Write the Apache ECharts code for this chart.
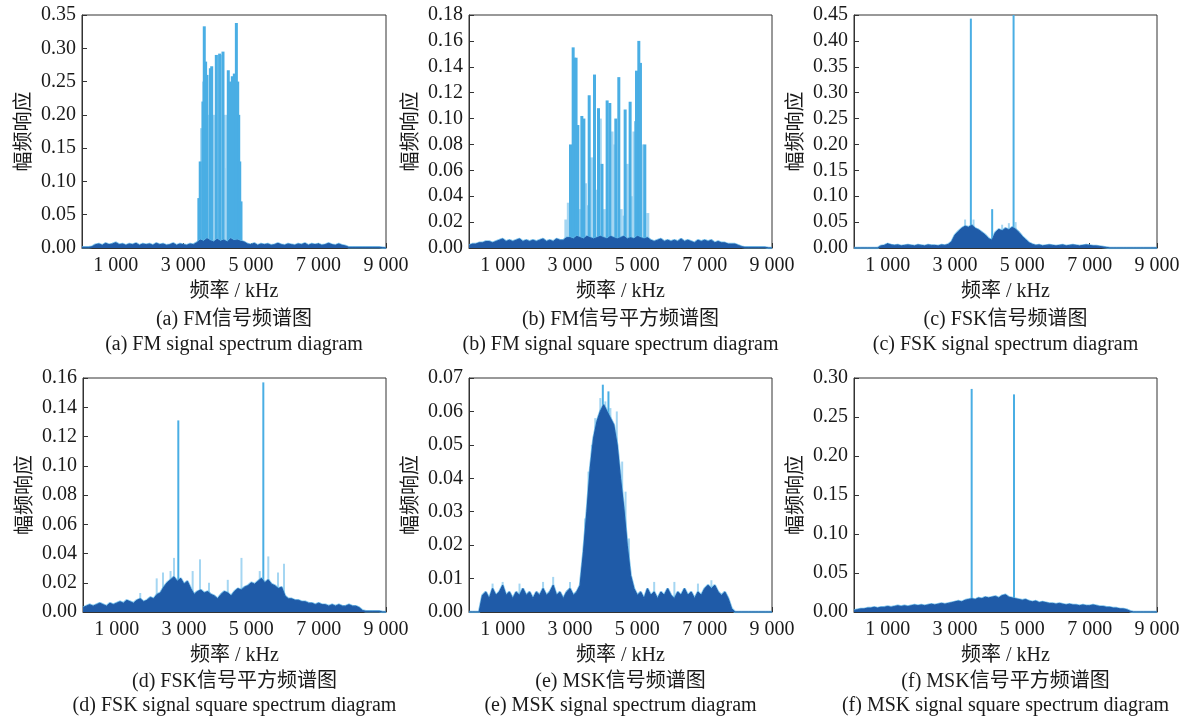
<!DOCTYPE html>
<html><head><meta charset="utf-8">
<script src="https://cdn.jsdelivr.net/npm/echarts@6.0.0/dist/echarts.min.js"></script>
<style>html,body{margin:0;padding:0;background:#fff}#c{width:1193px;height:720px}</style>
</head><body><div id="c"></div><script>
// ---------- data (kHz / amplitude) ----------
const FREQ_STEP = 100; // floor samples every 100 kHz from 0 to 9000
const xTickValues = [1000, 3000, 5000, 7000, 9000];
const yAxisMax  = [0.35, 0.18, 0.45, 0.16, 0.07, 0.30];
const yAxisStep = [0.05, 0.02, 0.05, 0.02, 0.01, 0.05];
const captionsCN = ['(a) FM信号频谱图', '(b) FM信号平方频谱图', '(c) FSK信号频谱图', '(d) FSK信号平方频谱图', '(e) MSK信号频谱图', '(f) MSK信号平方频谱图'];
const captionsEN = ['(a) FM signal spectrum diagram', '(b) FM signal square spectrum diagram', '(c) FSK signal spectrum diagram', '(d) FSK signal square spectrum diagram', '(e) MSK signal spectrum diagram', '(f) MSK signal square spectrum diagram'];
const yName = '幅频响应';
const xName = '频率 / kHz';

// (a) FM spectrum
const fmFloor = [
0.001,0.001,0.001,0.002,
0.005,0.006,0.004,0.007,0.005,0.006,0.008,0.005,0.006,0.004,
0.006,0.005,0.007,0.004,0.006,0.005,0.006,0.004,0.007,0.005,
0.006,0.004,0.005,0.007,0.004,0.006,0.005,0.004,0.006,0.005,
0.008,0.012,0.010,0.014,0.011,0.009,0.013,0.010,0.012,0.009,0.014,0.011,0.012,0.010,0.009,
0.006,0.005,0.007,0.004,0.006,0.005,0.006,0.004,0.005,0.007,
0.005,0.004,0.006,0.005,0.004,0.006,0.005,0.007,0.004,0.006,
0.005,0.006,0.004,0.005,0.007,0.005,0.004,0.006,0.004,
0.003,0.001,0.001,0.001,0.001,0.001,0.001,0.001,0.001,0.001,0.001,0.0005,0];
const fmSpikes = [[3460,0.075],[3500,0.13],[3580,0.22],[3620,0.333],[3660,0.28],[3700,0.26],[3800,0.27],[3840,0.273],[3976,0.29],[4075,0.292],[4174,0.295],[4331,0.267],[4380,0.25],[4450,0.258],[4510,0.262],[4570,0.338],[4610,0.25],[4640,0.2],[4670,0.13],[4707,0.07]];
const fmPale = [[3540,0.18],[3600,0.25],[3740,0.15],[3760,0.2],[3880,0.1],[3920,0.2],[4010,0.285],[4040,0.29],[4110,0.29],[4140,0.29],[4210,0.2],[4250,0.12],[4290,0.2],[4420,0.2],[4540,0.22]];

// (b) FM squared spectrum
const fmSqFloor = [
0.002,0.003,0.003,0.004,0.004,0.005,0.005,0.004,0.005,0.006,
0.007,0.005,0.006,0.005,0.006,0.007,0.005,0.006,0.005,0.006,
0.005,0.006,0.007,0.005,0.006,0.005,0.007,0.006,0.006,0.008,
0.008,0.007,0.009,0.008,0.007,0.009,0.008,0.007,0.008,0.009,
0.008,0.007,0.009,0.008,0.007,0.008,0.009,0.007,0.008,0.007,
0.009,0.008,0.007,0.008,0.006,0.005,0.006,0.007,0.005,0.006,
0.005,0.006,0.005,0.007,0.005,0.006,0.005,0.004,0.006,0.005,
0.006,0.005,0.006,0.004,0.005,0.004,0.004,0.003,0.003,0.003,
0.002,0.001,0.0005,0.0005,0.0005,0.0005,0.0005,0.0005,0.0005,0,0];
const fmSqSpikes = [[3015,0.08],[3094,0.155],[3133,0.147],[3180,0.147],[3233,0.095],[3352,0.102],[3412,0.1],[3570,0.118],[3727,0.134],[3846,0.108],[3950,0.065],[4103,0.114],[4183,0.112],[4361,0.1],[4450,0.132],[4638,0.107],[4786,0.113],[4955,0.098],[4975,0.137],[5044,0.16],[5093,0.143],[5222,0.08]];
const fmSqPale = [[2877,0.022],[2950,0.035],[3050,0.055],[3290,0.03],[3460,0.05],[3530,0.033],[3640,0.07],[3780,0.045],[3900,0.1],[4020,0.03],[4250,0.09],[4300,0.08],[4520,0.03],[4600,0.025],[4700,0.065],[4860,0.04],[4900,0.09],[5160,0.08],[5311,0.027]];

// (c) FSK spectrum
const fskFloor = [
0,0,0,0,0,0,0,0,
0.004,
0.005,0.008,0.006,0.005,0.006,0.004,0.005,0.006,0.005,0.004,0.006,0.005,0.004,0.006,0.005,0.005,0.004,0.006,0.005,0.007,
0.012,0.025,0.032,0.038,0.042,0.040,0.044,0.038,0.035,0.030,0.025,0.018,0.015,0.030,0.036,0.033,0.038,0.035,0.040,0.036,0.030,0.022,0.016,0.010,0.007,
0.005,0.006,0.004,0.005,0.006,0.005,0.004,0.005,0.006,0.004,0.005,0.006,0.005,0.004,0.005,0.006,0.005,0.004,
0.004,0.003,0.002,0.001,
0,0,0,0,0,0,0,0,0,0,0,0,0,0,0];
const fskSpikes = [[3471,0.443],[4740,0.45],[4104,0.075]];
const fskPale = [[3300,0.055],[3550,0.055],[4400,0.045],[4600,0.048],[4800,0.05]];

// (d) FSK squared spectrum
const fskSqFloor = [
0.003,0.004,0.005,0.004,0.005,0.006,0.005,0.004,0.006,0.005,
0.006,0.007,0.006,0.008,0.007,0.006,0.008,0.009,0.007,0.008,
0.010,0.009,0.012,0.013,0.017,0.020,0.022,0.024,0.021,0.023,
0.019,0.021,0.016,0.012,0.014,0.015,0.013,0.014,0.012,0.011,
0.009,0.012,0.014,0.013,0.011,0.014,0.016,0.015,0.017,0.018,
0.020,0.019,0.021,0.023,0.020,0.022,0.019,0.018,0.016,0.017,
0.011,0.009,0.009,0.008,0.008,0.007,0.007,0.006,0.006,0.005,
0.006,0.005,0.005,0.004,0.005,0.004,0.005,0.004,0.004,0.005,
0.004,0.004,0.003,0.001,0.0005,0.0005,0.0005,0.0005,0.0005,0,0];
const fskSqSpikes = [[2831,0.131],[5356,0.157]];
const fskSqPale = [[1700,0.013],[2189,0.023],[2376,0.027],[2600,0.028],[2703,0.037],[3257,0.028],[3475,0.036],[3742,0.02],[4300,0.022],[4707,0.037],[5250,0.028],[5504,0.038],[5792,0.027],[5970,0.033]];

// (e) MSK spectrum
const mskFloor = [
0,0,0,0,
0.005,0.006,0.004,0.007,0.005,0.006,0.008,0.005,0.006,0.004,
0.006,0.005,0.007,0.005,0.006,0.004,0.006,0.005,0.007,0.005,
0.006,0.008,0.005,0.006,0.004,0.006,0.007,0.005,0.006,0.008,
0.018,0.030,0.043,0.052,0.057,0.060,0.062,0.060,0.058,0.056,0.050,0.040,0.031,0.020,0.011,0.007,
0.005,0.006,0.004,0.007,0.005,0.006,0.004,0.006,0.005,0.007,
0.005,0.004,0.006,0.005,0.007,0.005,0.006,0.004,0.006,0.005,
0.007,0.008,0.007,0.008,0.006,0.005,0.006,0.004,
0.001,0,0,0,0,0,0,0,0,0,0,0,0];
const mskSpikes = [[3975,0.068],[4142,0.066]];
const mskPale = [[700,0.0085],[1000,0.009],[1500,0.0085],[2200,0.009],[2500,0.0105],[3000,0.009],[3450,0.028],[3550,0.042],[3650,0.05],[3750,0.058],[3900,0.064],[4050,0.063],[4200,0.061],[4390,0.06],[4550,0.045],[4650,0.036],[4750,0.022],[5500,0.009],[6100,0.009],[6800,0.0085],[7200,0.0095]];

// (f) MSK squared spectrum
const mskSqFloor = [
0.002,0.003,0.004,0.004,0.005,0.005,0.006,0.005,0.006,0.006,
0.007,0.006,0.007,0.008,0.007,0.008,0.007,0.008,0.009,0.008,
0.009,0.008,0.009,0.010,0.009,0.010,0.011,0.010,0.011,0.012,
0.013,0.014,0.013,0.015,0.016,0.017,0.016,0.018,0.017,0.019,
0.018,0.019,0.020,0.018,0.021,0.022,0.019,0.018,0.017,0.016,
0.015,0.016,0.014,0.013,0.014,0.012,0.013,0.012,0.011,0.011,
0.010,0.011,0.010,0.009,0.010,0.009,0.009,0.008,0.009,0.008,
0.008,0.009,0.008,0.007,0.007,0.006,0.006,0.005,0.005,0.004,
0.004,0.003,0.001,0,0,0,0,0,0,0,0];
const mskSqSpikes = [[3495,0.286],[4752,0.279]];
const mskSqPale = [];

// ---------- layout ----------
const panels = [
  {floor: fmFloor,    spikes: fmSpikes,    pale: fmPale,    box: [82, 15, 304, 233],  barW: 3},
  {floor: fmSqFloor,  spikes: fmSqSpikes,  pale: fmSqPale,  box: [469, 15, 303, 233], barW: 3},
  {floor: fskFloor,   spikes: fskSpikes,   pale: fskPale,   box: [854, 15, 303, 233], barW: 2},
  {floor: fskSqFloor, spikes: fskSqSpikes, pale: fskSqPale, box: [83, 378, 303, 234], barW: 2},
  {floor: mskFloor,   spikes: mskSpikes,   pale: mskPale,   box: [469, 378, 303, 234], barW: 2},
  {floor: mskSqFloor, spikes: mskSqSpikes, pale: mskSqPale, box: [854, 378, 303, 234], barW: 2}
];
const FONT = '"Liberation Serif", "Noto Sans CJK SC", serif';
const TXT = '#1a1a1a';
const DARK = '#1f5ba8';
const LIGHT = '#4aaee4';
const PALE = '#a5d6f2';
const FRINGE = '#5fb5e6';
const fmtK = v => String(v).replace(/\B(?=(\d{3})+(?!\d))/g, ' ');

const grid = [], xAxis = [], yAxis = [], series = [], graphic = [];
panels.forEach((p, i) => {
  const [l, t, w, h] = p.box;
  grid.push({left: l, top: t, width: w, height: h, show: true, borderColor: '#333', borderWidth: 1, backgroundColor: 'transparent'});
  xAxis.push({
    gridIndex: i, type: 'value', min: 0, max: 9000,
    name: xName, nameLocation: 'middle', nameGap: 34,
    nameTextStyle: {fontFamily: FONT, fontSize: 20, color: TXT},
    axisLine: {show: true, lineStyle: {color: '#333', width: 1}},
    axisTick: {show: true, inside: true, length: 5, customValues: xTickValues, lineStyle: {color: '#333'}},
    axisLabel: {customValues: xTickValues, formatter: fmtK, fontFamily: FONT, fontSize: 20, color: TXT, margin: 8},
    splitLine: {show: false}
  });
  yAxis.push({
    gridIndex: i, type: 'value', min: 0, max: yAxisMax[i], interval: yAxisStep[i],
    name: yName, nameLocation: 'middle', nameGap: 47, nameRotate: 90,
    nameTextStyle: {fontFamily: FONT, fontSize: 20, color: TXT},
    axisLine: {show: true, lineStyle: {color: '#333', width: 1}},
    axisTick: {show: true, inside: true, length: 5, lineStyle: {color: '#333'}},
    axisLabel: {formatter: v => v.toFixed(2), fontFamily: FONT, fontSize: 20, color: TXT, margin: 6},
    splitLine: {show: false}
  });
  const floorData = p.floor.map((v, k) => [k * FREQ_STEP, v]);
  series.push({
    type: 'bar', xAxisIndex: i, yAxisIndex: i, barWidth: p.barW, z: 1, silent: true,
    data: [
      ...p.pale.map(d => ({value: d, itemStyle: {color: PALE}})),
      ...p.spikes.map(d => ({value: d, itemStyle: {color: LIGHT}}))
    ]
  });
  series.push({
    type: 'line', xAxisIndex: i, yAxisIndex: i, data: floorData, symbol: 'none', z: 2, silent: true,
    lineStyle: {color: FRINGE, width: 2.5, opacity: 0.8}
  });
  series.push({
    type: 'line', xAxisIndex: i, yAxisIndex: i, data: floorData, symbol: 'none', z: 3, silent: true,
    lineStyle: {color: DARK, width: 1}, areaStyle: {color: DARK, opacity: 1}
  });
  const cx = l + w / 2;
  const row2 = t > 100;
  graphic.push({type: 'text', x: cx, y: row2 ? 682 : 320, style: {text: captionsCN[i], font: '20px ' + FONT, fill: TXT, align: 'center', verticalAlign: 'middle'}});
  graphic.push({type: 'text', x: cx, y: row2 ? 706 : 345, style: {text: captionsEN[i], font: '20px ' + FONT, fill: TXT, align: 'center', verticalAlign: 'middle'}});
});

const chart = echarts.init(document.getElementById('c'), null, {renderer: 'canvas'});
chart.setOption({animation: false, backgroundColor: '#fff', grid, xAxis, yAxis, series, graphic});
</script></body></html>
